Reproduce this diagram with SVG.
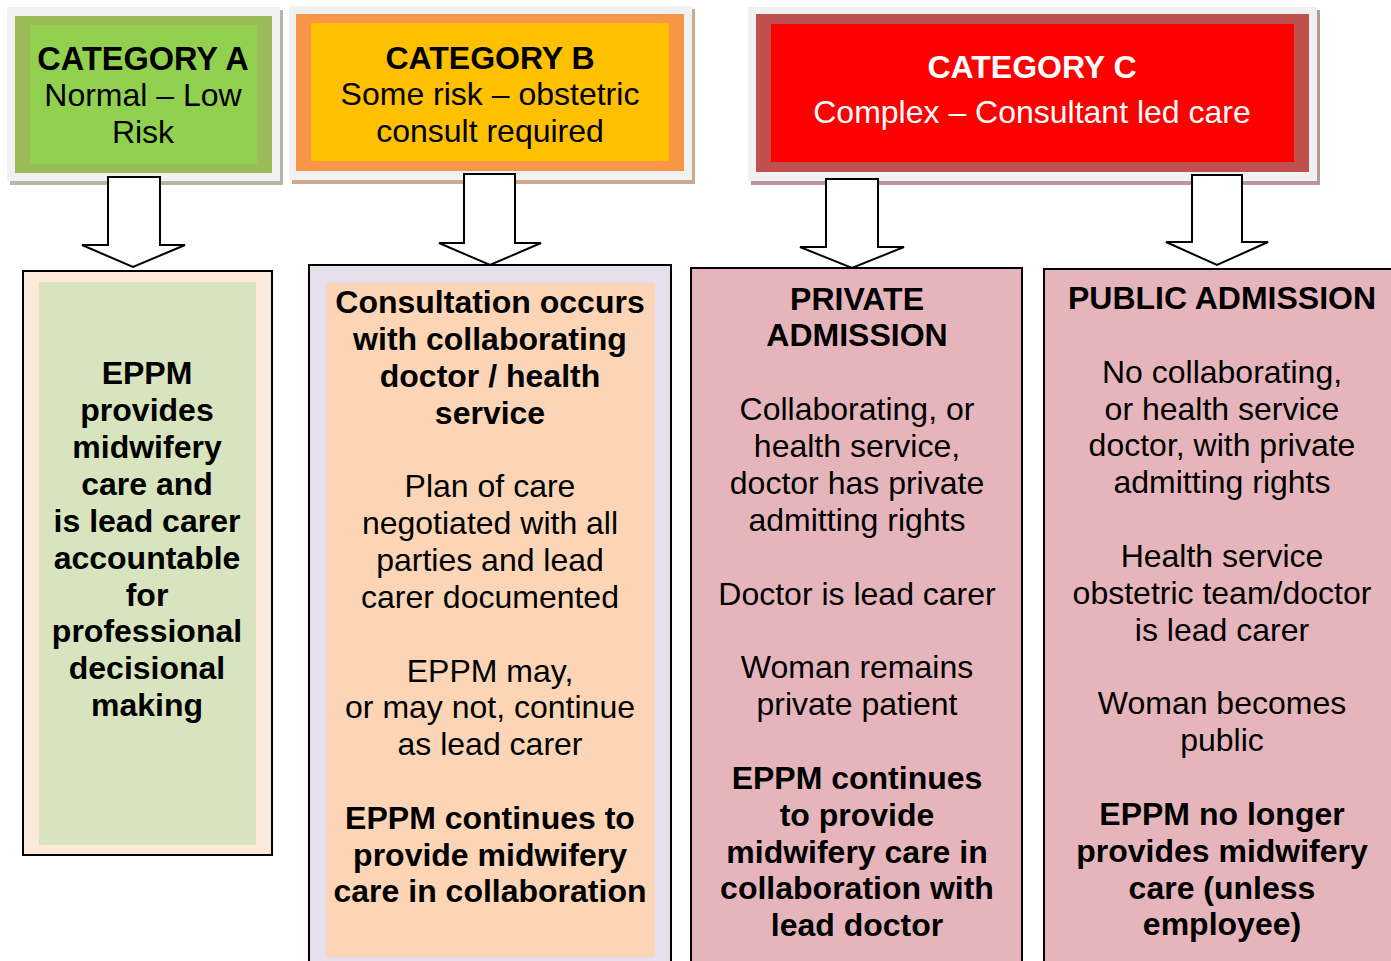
<svg xmlns="http://www.w3.org/2000/svg" width="1391" height="961" viewBox="0 0 1391 961">
  <style>
    text { font-family: "Liberation Sans", Arial, sans-serif; font-size: 32px; text-anchor: middle; fill: #000; }
    .b { font-weight: bold; }
    .w { fill: #fff; }
    .frame { fill: #f1f1f1; }
    .box { stroke: #000; stroke-width: 2; }
    .arrow { fill: #fff; stroke: #000; stroke-width: 2; stroke-linejoin: miter; }
  </style>

  <rect width="1391" height="961" fill="#fff"/>

  <!-- Category headers -->
  <g id="cat-a">
    <rect x="10" y="10" width="273" height="175" fill="#b3baa3"/>
    <rect class="frame" x="7" y="7" width="273" height="174"/>
    <rect x="15" y="16" width="257" height="157" fill="#9bbb59"/>
    <rect x="30" y="25" width="227" height="139" fill="#92d050"/>
    <text class="b" x="143" y="70" style="font-size:32.5px">CATEGORY A</text>
    <text x="143" y="106">Normal – Low</text>
    <text x="143" y="143">Risk</text>
  </g>

  <g id="cat-b">
    <rect x="292" y="9" width="403" height="175" fill="#cfa98e"/>
    <rect class="frame" x="289" y="6" width="403" height="174"/>
    <rect x="296" y="14" width="388" height="157" fill="#f79646"/>
    <rect x="311" y="23" width="358" height="138" fill="#ffc000"/>
    <text class="b" x="490" y="69">CATEGORY B</text>
    <text x="490" y="105">Some risk – obstetric</text>
    <text x="490" y="142">consult required</text>
  </g>

  <g id="cat-c">
    <rect x="751" y="10" width="569" height="175" fill="#b89797"/>
    <rect class="frame" x="748" y="7" width="569" height="174"/>
    <rect x="756" y="14" width="553" height="158" fill="#c0504d"/>
    <rect x="771" y="24" width="523" height="138" fill="#ff0000"/>
    <text class="b w" x="1032" y="78">CATEGORY C</text>
    <text class="w" x="1032" y="123">Complex – Consultant led care</text>
  </g>

  <!-- Block arrows -->
  <g id="connectors">
    <polygon class="arrow" points="108,177 160,177 160,245 185,245 133,267 82,245 108,245"/>
    <polygon class="arrow" points="464,174 515,174 515,243 541,243 490,265 439,243 464,243"/>
    <polygon class="arrow" points="826,179 878,179 878,247 904,247 852,268 800,247 826,247"/>
    <polygon class="arrow" points="1192,175 1242,175 1242,242 1268,242 1217,265 1166,242 1192,242"/>
  </g>

  <!-- Outcome boxes -->
  <g id="box-a">
    <rect class="box" x="23" y="271" width="249" height="584" fill="#fde9d9"/>
    <rect x="39" y="282" width="217" height="563" fill="#d7e4bd"/>
    <text class="b" x="147" y="384">EPPM</text>
    <text class="b" x="147" y="421">provides</text>
    <text class="b" x="147" y="458">midwifery</text>
    <text class="b" x="147" y="495">care and</text>
    <text class="b" x="147" y="532">is lead carer</text>
    <text class="b" x="147" y="569">accountable</text>
    <text class="b" x="147" y="606">for</text>
    <text class="b" x="147" y="642">professional</text>
    <text class="b" x="147" y="679">decisional</text>
    <text class="b" x="147" y="716">making</text>
  </g>

  <g id="box-b">
    <rect class="box" x="309" y="265" width="362" height="710" fill="#e5e0ec"/>
    <rect x="326" y="283" width="329" height="674" fill="#fbd5b5"/>
    <text class="b" x="490" y="313">Consultation occurs</text>
    <text class="b" x="490" y="350">with collaborating</text>
    <text class="b" x="490" y="387">doctor / health</text>
    <text class="b" x="490" y="424">service</text>
    <text x="490" y="497">Plan of care</text>
    <text x="490" y="534">negotiated with all</text>
    <text x="490" y="571">parties and lead</text>
    <text x="490" y="608">carer documented</text>
    <text x="490" y="682">EPPM may,</text>
    <text x="490" y="718">or may not, continue</text>
    <text x="490" y="755">as lead carer</text>
    <text class="b" x="490" y="829">EPPM continues to</text>
    <text class="b" x="490" y="866">provide midwifery</text>
    <text class="b" x="490" y="902">care in collaboration</text>
  </g>

  <g id="box-private">
    <rect class="box" x="691" y="268" width="331" height="710" fill="#e6b5bc"/>
    <text class="b" x="857" y="310">PRIVATE</text>
    <text class="b" x="857" y="346">ADMISSION</text>
    <text x="857" y="420">Collaborating, or</text>
    <text x="857" y="457">health service,</text>
    <text x="857" y="494">doctor has private</text>
    <text x="857" y="531">admitting rights</text>
    <text x="857" y="605">Doctor is lead carer</text>
    <text x="857" y="678">Woman remains</text>
    <text x="857" y="715">private patient</text>
    <text class="b" x="857" y="789">EPPM continues</text>
    <text class="b" x="857" y="826">to provide</text>
    <text class="b" x="857" y="863">midwifery care in</text>
    <text class="b" x="857" y="899">collaboration with</text>
    <text class="b" x="857" y="936">lead doctor</text>
  </g>

  <g id="box-public">
    <rect class="box" x="1044" y="269" width="360" height="710" fill="#e6b5bc"/>
    <text class="b" x="1222" y="309">PUBLIC ADMISSION</text>
    <text x="1222" y="383">No collaborating,</text>
    <text x="1222" y="420">or health service</text>
    <text x="1222" y="456">doctor, with private</text>
    <text x="1222" y="493">admitting rights</text>
    <text x="1222" y="567">Health service</text>
    <text x="1222" y="604">obstetric team/doctor</text>
    <text x="1222" y="641">is lead carer</text>
    <text x="1222" y="714">Woman becomes</text>
    <text x="1222" y="751">public</text>
    <text class="b" x="1222" y="825">EPPM no longer</text>
    <text class="b" x="1222" y="862">provides midwifery</text>
    <text class="b" x="1222" y="899">care (unless</text>
    <text class="b" x="1222" y="935">employee)</text>
  </g>
</svg>
